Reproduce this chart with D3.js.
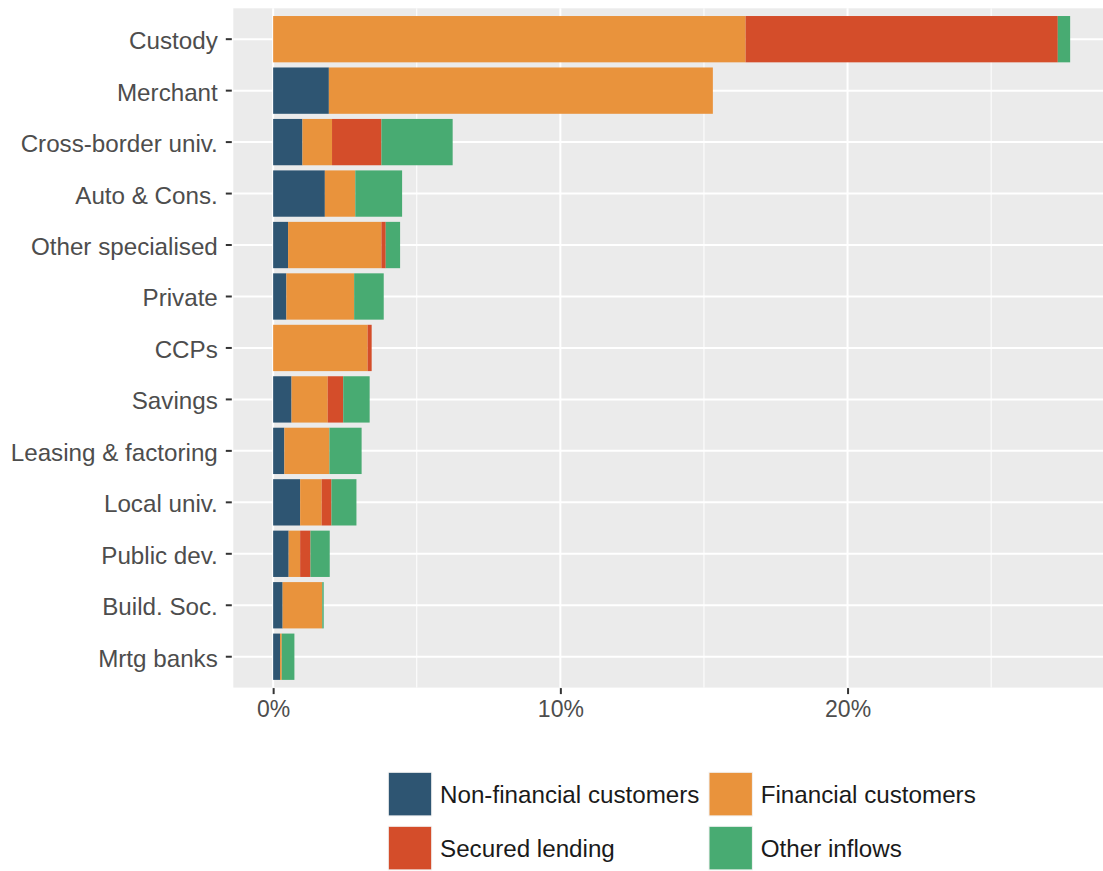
<!DOCTYPE html>
<html>
<head>
<meta charset="utf-8">
<script src="https://cdn.jsdelivr.net/npm/d3@7/dist/d3.min.js"></script>
<style>
  html, body { margin: 0; padding: 0; background: #ffffff; }
  svg { display: block; font-family: "Liberation Sans", Arial, sans-serif; }
</style>
</head>
<body>
<svg id="chart" width="1103" height="871"></svg>
<script>
// ---- data (percent) ----
const categories = ["Custody", "Merchant", "Cross-border univ.", "Auto & Cons.", "Other specialised",
  "Private", "CCPs", "Savings", "Leasing & factoring", "Local univ.", "Public dev.", "Build. Soc.", "Mrtg banks"];
const seriesNames = ["Non-financial customers", "Financial customers", "Secured lending", "Other inflows"];
const nonFinancial = [0.00, 1.94, 1.02, 1.80, 0.52, 0.46, 0.00, 0.64, 0.39, 0.94, 0.54, 0.33, 0.24];
const financial    = [16.45, 13.37, 1.03, 1.06, 3.25, 2.36, 3.29, 1.26, 1.57, 0.75, 0.40, 1.38, 0.06];
const secured      = [10.87, 0.00, 1.72, 0.00, 0.15, 0.00, 0.14, 0.54, 0.00, 0.34, 0.36, 0.00, 0.00];
const other        = [0.43, 0.00, 2.48, 1.63, 0.50, 1.03, 0.00, 0.92, 1.12, 0.87, 0.67, 0.05, 0.44];
const xTicks = [0, 10, 20];
const xMinor = [5, 15, 25];
const colors = ["#2e5572", "#e9933c", "#d44d2a", "#48ab72"];

const keys = ["nf", "fc", "sl", "oi"];
const rows = categories.map((c, i) => ({cat: c, nf: nonFinancial[i], fc: financial[i], sl: secured[i], oi: other[i]}));
const stacked = d3.stack().keys(keys)(rows);

const svg = d3.select("#chart");
const panel = {left: 233.3, right: 1110, top: 8.3, bottom: 687.6};

const maxTotal = d3.max(rows, r => r.nf + r.fc + r.sl + r.oi);
const x = d3.scaleLinear()
  .domain([-0.05 * maxTotal, maxTotal * 1.05])
  .range([panel.left, panel.right]);

const n = categories.length;
const step = (panel.bottom - panel.top) / (n - 1 + 1.2);
const y = d3.scaleBand()
  .domain(categories)
  .range([panel.top + 0.6 * step - step / 2, panel.bottom - 0.6 * step + step / 2])
  .paddingInner(0.1).paddingOuter(0.05);

// panel background
svg.append("rect")
  .attr("x", panel.left).attr("y", panel.top)
  .attr("width", panel.right - panel.left).attr("height", panel.bottom - panel.top)
  .attr("fill", "#ebebeb");

const grid = svg.append("g");
grid.selectAll(".minor").data(xMinor).join("line")
  .attr("x1", d => x(d)).attr("x2", d => x(d))
  .attr("y1", panel.top).attr("y2", panel.bottom)
  .attr("stroke", "#ffffff").attr("stroke-width", 1);
grid.selectAll(".major").data(xTicks).join("line")
  .attr("x1", d => x(d)).attr("x2", d => x(d))
  .attr("y1", panel.top).attr("y2", panel.bottom)
  .attr("stroke", "#ffffff").attr("stroke-width", 2);
grid.selectAll(".hy").data(categories).join("line")
  .attr("x1", panel.left).attr("x2", panel.right)
  .attr("y1", d => y(d) + y.bandwidth() / 2).attr("y2", d => y(d) + y.bandwidth() / 2)
  .attr("stroke", "#ffffff").attr("stroke-width", 2);

// bars
svg.append("g").selectAll("g").data(stacked).join("g")
  .attr("fill", (d, i) => colors[i])
  .selectAll("rect").data(d => d.filter(s => s[1] - s[0] > 0)).join("rect")
  .attr("x", d => x(d[0]))
  .attr("width", d => x(d[1]) - x(d[0]))
  .attr("y", d => y(d.data.cat))
  .attr("height", y.bandwidth());

// y axis
const yAxis = d3.axisLeft(y).tickSize(6).tickPadding(8);
const gy = svg.append("g").attr("transform", `translate(${panel.left - 1.5},0)`).call(yAxis);
gy.select(".domain").remove();
gy.selectAll(".tick line").attr("stroke", "#333333").attr("stroke-width", 2);
gy.selectAll(".tick text").attr("fill", "#4d4d4d").attr("font-size", "24.2px")
  .attr("dy", "0.41em")
  .attr("font-family", "Liberation Sans, Arial, sans-serif");

// x axis
const xAxis = d3.axisBottom(x).tickValues(xTicks).tickFormat(d => d + "%").tickSize(6).tickPadding(7);
const gx = svg.append("g").attr("transform", `translate(0,${panel.bottom + 0.5})`).call(xAxis);
gx.select(".domain").remove();
gx.selectAll(".tick line").attr("stroke", "#333333").attr("stroke-width", 2);
gx.selectAll(".tick text").attr("fill", "#4d4d4d").attr("font-size", "23px")
  .attr("font-family", "Liberation Sans, Arial, sans-serif");

// legend
const legendCols = [388.3, 709];
const legendRows = [772.3, 826.3];
const legend = svg.append("g");
seriesNames.forEach((name, i) => {
  const lx = legendCols[i % 2], ly = legendRows[Math.floor(i / 2)];
  legend.append("rect")
    .attr("x", lx).attr("y", ly).attr("width", 43.4).attr("height", 43.6)
    .attr("fill", colors[i]).attr("stroke", "#f2f2f2").attr("stroke-width", 1);
  legend.append("text")
    .attr("x", lx + 51.7).attr("y", ly + 31)
    .attr("font-size", "24.2px").attr("fill", "#1a1a1a")
    .text(name);
});
</script>
</body>
</html>
